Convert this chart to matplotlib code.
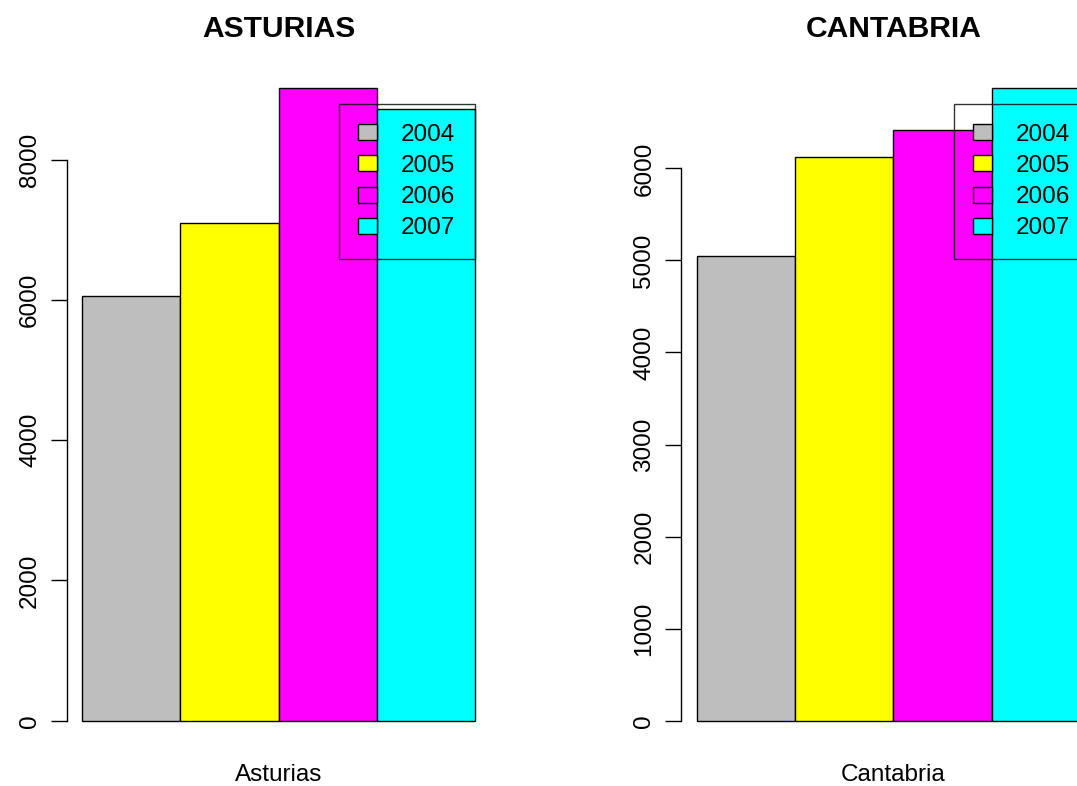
import matplotlib
matplotlib.use("Agg")
import matplotlib.pyplot as plt
from matplotlib.patches import Patch
from matplotlib.transforms import blended_transform_factory

plt.rcParams['font.family'] = ['Liberation Sans', 'DejaVu Sans']

# Data
years = ['2004', '2005', '2006', '2007']
colors = ['#BEBEBE', '#FFFF00', '#FF00FF', '#00FFFF']
asturias = [6060, 7100, 9020, 8720]
cantabria = [5050, 6120, 6420, 6870]
asturias_ticks = [0, 2000, 4000, 6000, 8000]
cantabria_ticks = [0, 1000, 2000, 3000, 4000, 5000, 6000]

W, H = 1077, 786
fig = plt.figure(figsize=(W / 100, H / 100), dpi=100)


# Function to draw one R-style barplot panel (plot region given in pixels)
def plot_region(left_px, right_px, values, ticks, title, xlabel):
    top_px, bottom_px = 63, 746
    ax = fig.add_axes([left_px / W, 1 - bottom_px / H,
                       (right_px - left_px) / W, (bottom_px - top_px) / H])
    x = [1.5 + i for i in range(len(values))]
    ax.bar(x, values, width=1.0, color=colors, edgecolor='black', linewidth=1.0)
    vmax = max(values)
    ax.set_xlim(0.84, 5.16)
    ax.set_ylim(-0.04 * vmax, 1.04 * vmax)

    for s in ['top', 'right', 'bottom']:
        ax.spines[s].set_visible(False)
    ax.spines['left'].set_bounds(ticks[0], ticks[-1])
    ax.spines['left'].set_linewidth(1.0)
    ax.set_xticks([])
    ax.set_yticks(ticks)
    ax.set_yticklabels([str(t) for t in ticks], rotation=90, va='center',
                       fontsize=17.5)
    ax.tick_params(axis='y', direction='out', length=11.5, width=1.0, pad=7)

    h = bottom_px - top_px
    ax.set_title(title, fontsize=21.6, fontweight='bold', y=(bottom_px - 37) / h, pad=0)
    ax.set_xlabel(xlabel, fontsize=17.5)
    ax.xaxis.label.set_va('baseline')
    ax.xaxis.set_label_coords(0.5, (bottom_px - 781) / h)

    handles = [Patch(facecolor=c, edgecolor='black', linewidth=1.0) for c in colors]
    trans = blended_transform_factory(ax.transData, ax.transAxes)
    leg = ax.legend(handles, years, loc='upper right',
                    bbox_to_anchor=(5.0, (bottom_px - 104) / h),
                    bbox_transform=trans, borderaxespad=0, fontsize=17.5,
                    handlelength=0.75, handleheight=0.65, handletextpad=1.0,
                    borderpad=0.81, labelspacing=0.38, fancybox=False)
    leg.get_frame().set_edgecolor('black')
    leg.get_frame().set_facecolor('none')
    leg.get_frame().set_linewidth(1.0)
    return ax


plot_region(66.7, 490.5, asturias, asturias_ticks, 'ASTURIAS', 'Asturias')
plot_region(681, 1105.5, cantabria, cantabria_ticks, 'CANTABRIA', 'Cantabria')

plt.savefig('out.png', dpi=100)
